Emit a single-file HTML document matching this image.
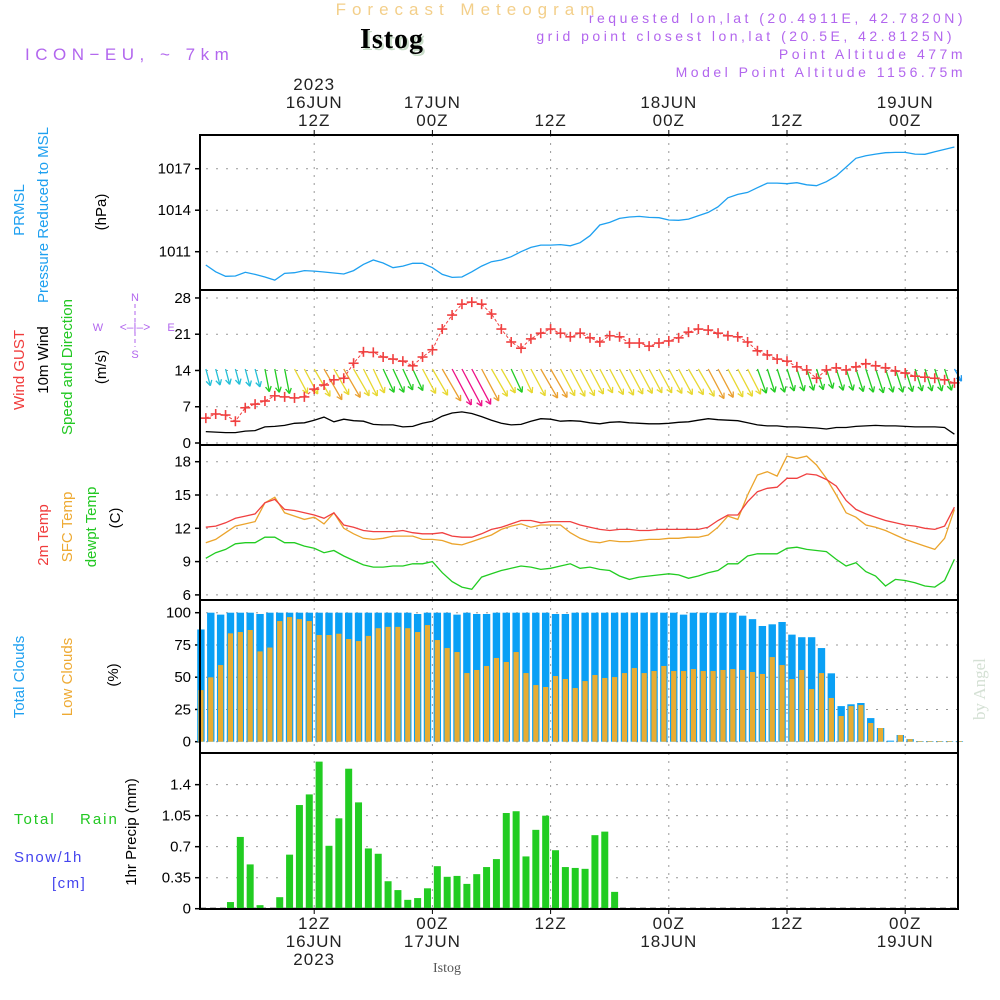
<!DOCTYPE html>
<html><head><meta charset="utf-8"><style>
html,body{margin:0;padding:0;background:#fff;}
svg{display:block;font-family:"Liberation Sans",sans-serif;}
</style></head><body>
<svg id="chart" width="1000" height="1000" viewBox="0 0 1000 1000" xmlns="http://www.w3.org/2000/svg">
<text x="468" y="15" font-size="17" fill="#f3cf8a" text-anchor="middle" letter-spacing="6">Forecast Meteogram</text>
<text x="394" y="50" font-size="28" font-weight="bold" font-family="Liberation Serif,serif" fill="#c8dcc8" text-anchor="middle" letter-spacing="1">Istog</text>
<text x="392" y="48" font-size="28" font-weight="bold" font-family="Liberation Serif,serif" fill="#000" text-anchor="middle" letter-spacing="1">Istog</text>
<text x="25" y="60" font-size="17" fill="#b266ee" letter-spacing="5.5">ICON−EU, ~ 7km</text>
<g font-size="14" fill="#b266ee" text-anchor="end" letter-spacing="3.5">
<text x="966" y="23">requested lon,lat (20.4911E, 42.7820N)</text>
<text x="955" y="41">grid point closest lon,lat (20.5E, 42.8125N)</text>
<text x="966" y="59">Point Altitude 477m</text>
<text x="966" y="77">Model Point Altitude 1156.75m</text>
</g>
<g font-size="15" fill="#000">
<text transform="translate(24,210) rotate(-90)" text-anchor="middle" fill="#1ea0f0">PRMSL</text>
<text transform="translate(48,215) rotate(-90)" text-anchor="middle" fill="#1ea0f0">Pressure Reduced to MSL</text>
<text transform="translate(106,212) rotate(-90)" text-anchor="middle">(hPa)</text>
<text transform="translate(24,370) rotate(-90)" text-anchor="middle" fill="#f03c3c">Wind GUST</text>
<text transform="translate(48,360) rotate(-90)" text-anchor="middle">10m Wind</text>
<text transform="translate(72,367) rotate(-90)" text-anchor="middle" fill="#22c822">Speed and Direction</text>
<text transform="translate(106,367) rotate(-90)" text-anchor="middle">(m/s)</text>
<text transform="translate(48,535) rotate(-90)" text-anchor="middle" fill="#f03c3c">2m Temp</text>
<text transform="translate(72,527) rotate(-90)" text-anchor="middle" fill="#eeaa33">SFC Temp</text>
<text transform="translate(96,527) rotate(-90)" text-anchor="middle" fill="#22c822">dewpt Temp</text>
<text transform="translate(120,518) rotate(-90)" text-anchor="middle">(C)</text>
<text transform="translate(24,677) rotate(-90)" text-anchor="middle" fill="#1ea0f0">Total Clouds</text>
<text transform="translate(72,677) rotate(-90)" text-anchor="middle" fill="#eeaa33">Low Clouds</text>
<text transform="translate(118,675) rotate(-90)" text-anchor="middle">(%)</text>
<text transform="translate(136,832) rotate(-90)" text-anchor="middle">1hr Precip (mm)</text>
<text x="14" y="824" fill="#22c822" letter-spacing="2">Total</text>
<text x="80" y="824" fill="#22c822" letter-spacing="2">Rain</text>
<text x="14" y="862" fill="#4444ee" letter-spacing="1.5">Snow/1h</text>
<text x="52" y="888" fill="#4444ee" letter-spacing="1.5">[cm]</text>
</g>
<g fill="#b266ee" font-size="11" stroke="none">
<text x="135" y="301" text-anchor="middle">N</text>
<text x="135" y="358" text-anchor="middle">S</text>
<text x="98" y="331" text-anchor="middle">W</text>
<text x="171" y="331" text-anchor="middle">E</text>
<text x="135" y="331" text-anchor="middle" font-size="12">&lt;–|–&gt;</text>
<line x1="135" y1="304" x2="135" y2="347" stroke="#b266ee" stroke-dasharray="4,3"/>
</g>
<text transform="translate(985,720) rotate(-90)" font-size="17" font-family="Liberation Serif,serif" fill="#d4e0d4">by Angel</text>
<text x="447" y="972" font-size="14" font-family="Liberation Serif,serif" fill="#555" text-anchor="middle">Istog</text>
<g id="plot"></g>
</svg>
<script>
const pressure=[1010.04,1009.55,1009.22,1009.24,1009.51,1009.36,1009.17,1008.95,1009.43,1009.48,1009.63,1009.6,1009.53,1009.46,1009.39,1009.63,1010.08,1010.4,1010.18,1009.84,1009.96,1010.16,1010.16,1009.84,1009.36,1009.14,1009.17,1009.55,1009.96,1010.28,1010.4,1010.64,1011.0,1011.31,1011.48,1011.48,1011.51,1011.43,1011.65,1012.16,1012.93,1013.12,1013.41,1013.51,1013.55,1013.48,1013.46,1013.29,1013.27,1013.36,1013.6,1013.84,1014.25,1014.9,1015.14,1015.29,1015.63,1015.96,1015.96,1015.92,1015.99,1015.84,1015.77,1016.06,1016.49,1017.12,1017.75,1017.94,1018.06,1018.16,1018.18,1018.18,1018.06,1018.04,1018.23,1018.4,1018.57];
const gust=[4.8,5.6,5.4,4.2,6.8,7.5,8.1,9.1,8.9,8.7,8.9,10.4,11.2,12.2,12.5,15.4,17.6,17.5,16.6,16.2,15.8,14.9,16.6,18,22,24.7,26.8,27.2,26.8,24.9,22,19.5,18.3,20.1,21.2,22,21.2,20.5,21.2,20.3,19.5,20.7,20.5,19.3,19.3,18.7,19.3,19.7,20.3,21.4,22,21.8,21.2,20.7,20.5,19.5,17.8,17,16.2,15.8,14.7,14.1,12.5,14.1,14.5,14.1,14.7,15.3,14.9,14.5,13.9,13.5,12.9,12.7,12.5,12.2,11.6];
const wind10m=[2.2,2.1,2.0,2.0,2.3,2.4,3.1,3.2,3.4,3.8,3.9,4.4,5.0,4.1,4.6,4.3,4.2,3.6,3.5,3.5,3.1,3.2,3.8,4.2,5.2,5.8,6.0,5.7,5.1,4.4,3.8,3.5,3.6,4.2,4.7,4.6,4.2,4.3,4.2,3.9,3.7,4.0,4.1,3.9,3.8,3.7,3.7,3.8,4.0,4.1,4.4,4.7,4.5,4.4,4.3,3.9,3.5,3.3,3.3,3.1,3.1,3.0,2.9,2.7,3.0,3.0,3.2,3.3,3.4,3.3,3.3,3.2,3.1,3.1,3.1,3.0,1.7];
const windDir=[345,345,345,345,345,345,349,349,349,332,332,330,330,330,330,330,333,335,335,335,335,335,332,330,330,332,332,332,332,330,330,335,335,332,330,330,332,332,332,332,332,332,332,332,332,332,332,332,332,330,330,332,332,332,332,333,340,342,342,342,342,342,342,342,342,342,342,342,342,342,342,342,342,342,342,342,330];
const temp2m=[12.1,12.2,12.5,12.9,13.1,13.3,14.3,14.6,13.7,13.6,13.4,13.2,12.9,13.4,12.3,12.1,11.8,11.7,11.7,11.7,11.8,11.6,11.5,11.5,11.6,11.3,11.2,11.2,11.5,11.9,12.1,12.4,12.7,12.7,12.5,12.6,12.6,12.6,12.3,12.1,11.9,11.8,11.9,11.9,11.8,11.8,11.9,11.9,11.9,11.9,11.9,12.1,12.7,13.2,13.2,14.4,15.3,15.6,15.7,16.5,16.5,16.9,16.8,16.4,15.8,14.5,13.7,13.3,13.0,12.7,12.5,12.3,12.2,12.0,11.9,12.2,13.9];
const sfcTemp=[10.7,11.0,11.6,12.2,12.4,12.6,14.3,14.8,13.4,13.1,12.8,13.0,12.4,13.4,12.0,11.5,11.1,11.0,11.1,11.3,11.3,11.3,11.0,11.0,10.9,10.6,10.5,10.8,11.1,11.4,11.9,12.2,12.4,12.1,12.3,12.3,12.3,11.6,11.1,10.8,10.7,10.9,10.8,10.8,10.9,11.0,11.0,11.1,11.1,11.2,11.2,11.4,12.1,13.1,12.8,15.0,16.8,17.1,16.7,18.5,18.3,18.5,17.7,16.5,15.0,13.4,13.0,12.3,12.1,11.8,11.4,11.0,10.7,10.4,10.1,11.1,13.7];
const dewpt=[9.3,9.8,10.1,10.6,10.7,10.7,11.2,11.2,10.7,10.7,10.4,10.2,9.8,10.0,9.5,9.1,8.7,8.5,8.5,8.6,8.6,8.8,8.8,9.0,8.0,7.2,6.7,6.5,7.6,7.9,8.2,8.4,8.6,8.5,8.3,8.4,8.6,8.8,8.4,8.5,8.3,8.2,7.7,7.4,7.6,7.7,7.8,7.9,7.8,7.5,7.7,8.0,8.2,8.8,8.8,9.5,9.7,9.7,9.7,10.2,10.3,10.1,10.0,9.9,9.2,8.6,8.9,8.1,7.7,6.8,7.4,7.3,7.1,6.8,6.7,7.3,9.2];
const totalClouds=[87,100,98.5,100,100,100,99,100,100,100,100,100,100,100,100,100,100,100,100,100,100,100,99,100,100,100,98.5,100,99,99,100,100,100,100,100,100,99,99,100,100,100,100,100,100,100,100,100,100,100,98.5,100,100,100,100,100,97.7,95,89.7,91,92.8,83,81,81,72.6,53,27.6,29,30,18.3,10.6,0.8,5.2,2,0.5,0.5,0.5,0.5,0.5];
const lowClouds=[40,49.9,59.4,84,85,86.6,70,73,93.5,96.6,95,93.5,82.7,82.7,83.7,79.6,78,82,88,89,89,88,85,90.4,78.8,72.6,69.5,53.2,55.6,58.7,64.9,61.8,69.5,53.2,43.9,42.4,50.9,48.6,41.6,47,51.7,49.4,50.1,53.2,57.1,53.2,54.8,58.7,54.8,54.8,56.3,54.8,54.8,55.6,56.3,55.6,54,52.5,65.6,59.4,48.6,55.6,40.8,53.2,33.9,19.9,27.6,28.4,14.5,10.6,0,5.2,2,0.5,0.5,0.5,0.5,0.5];
const precip=[0,0,0,0.075,0.81,0.50,0.04,0,0.13,0.61,1.17,1.29,1.66,0.71,1.02,1.58,1.20,0.68,0.62,0.31,0.21,0.10,0.12,0.23,0.48,0.36,0.37,0.28,0.39,0.47,0.56,1.08,1.10,0.59,0.89,1.05,0.66,0.47,0.46,0.45,0.83,0.87,0.19];
const pTicks=[1011,1014,1017];
const wTicks=[0,7,14,21,28];
const tTicks=[6,9,12,15,18];
const cTicks=[0,25,50,75,100];
const rTicks=[0,0.35,0.7,1.05,1.4];
const rTickLabels=["0","0.35","0.7","1.05","1.4"];
const timeTickHours=[12,24,36,48,60,72];
const topDayLabels=["2023\n16JUN\n12Z","17JUN\n00Z","12Z","18JUN\n00Z","12Z","19JUN\n00Z"];
const botDayLabels=["12Z\n16JUN\n2023","00Z\n17JUN","12Z","00Z\n18JUN","12Z","00Z\n19JUN"];

const NS="http://www.w3.org/2000/svg";
const plot=document.getElementById('plot');
const L=200,R=958;
function xh(h){return 196+9.85*h;}
const yP=v=>251.7-(v-1011)*13.83;
const yW=v=>443-v*5.18;
const yT=v=>528.3-(v-12)*11.1;
const yC=v=>741.7-v*1.29;
const yR=v=>908.7-v*88.6;
function el(tag,attrs,parent){const e=document.createElementNS(NS,tag);for(const k in attrs)e.setAttribute(k,attrs[k]);(parent||plot).appendChild(e);return e;}
const panels=[{t:135,b:290,y:yP,ticks:pTicks,lab:pTicks.map(String),n:'pressure'},{t:290,b:445,y:yW,ticks:wTicks,lab:wTicks.map(String),n:'wind'},{t:445,b:600,y:yT,ticks:tTicks,lab:tTicks.map(String),n:'temperature'},{t:600,b:753,y:yC,ticks:cTicks,lab:cTicks.map(String),n:'clouds'},{t:753,b:909,y:yR,ticks:rTicks,lab:rTickLabels,n:'precip'}];
panels.forEach(p=>{
  const g=el('g',{});
  
  
  timeTickHours.forEach(h=>{const l=el('line',{x1:xh(h),x2:xh(h),y1:p.t,y2:p.b,stroke:'#999','stroke-dasharray':'2,6'},g);});
  p.ticks.forEach((v,i)=>{const y=p.y(v);
    const gl=el('line',{x1:L+6,x2:R,y1:y,y2:y,stroke:'#999','stroke-dasharray':'2,8'},g);
    el('line',{x1:L-5,x2:L,y1:y,y2:y,stroke:'#000','stroke-width':1.5},g);
    const t=el('text',{x:L-9,y:y+5,'font-size':15,'text-anchor':'end',fill:'#000'},g);t.textContent=p.lab[i];
    });
});
totalClouds.forEach((v,h)=>{const x=xh(h+0.5);const r=el('rect',{x:x-3.7,y:yC(v),width:7.4,height:yC(0)-yC(v),fill:'#0aa0f5'});});
lowClouds.forEach((v,h)=>{const x=xh(h+0.5);const r=el('rect',{x:x-2.6,y:yC(v),width:5.2,height:yC(0)-yC(v),fill:'#e8ac32'});});
el('line',{x1:L,x2:R,y1:yR(0),y2:yR(0),stroke:'#000','stroke-width':2,'stroke-dasharray':'6,4'});
precip.forEach((v,h)=>{if(v<=0)return;const x=xh(h+0.5);const r=el('rect',{x:x-3.5,y:yR(v),width:7,height:yR(0)-yR(v),fill:'#22cc22'});});
function line(arr,yf,color,name,w){const pts=arr.map((v,i)=>xh(i+1).toFixed(1)+','+yf(v).toFixed(1)).join(' ');const l=el('polyline',{points:pts,fill:'none',stroke:color,'stroke-width':w||1.3});return l;}
line(pressure,yP,'#1ea0f0','pressure-line');
line(sfcTemp,yT,'#eba42c','sfc-temp-line');
line(temp2m,yT,'#f04040','temp-2m-line');
line(dewpt,yT,'#22cc22','dewpoint-line');
line(wind10m,yW,'#000','wind-10m-line');
function wcol(s){return s<2?'#2299ee':s<2.6?'#22c0d8':s<3.6?'#22cc22':s<4.5?'#e8d830':s<5.5?'#eaa030':'#ee1188';}
wind10m.forEach((s,i)=>{const x=xh(i+1),y=369;const len=6.5*s+3;const a=(windDir[i]+180)*Math.PI/180;const dx=Math.sin(a)*len,dy=-Math.cos(a)*len;const x2=x+dx,y2=y+dy;const c=wcol(s);
  const g=el('g',{stroke:c,'stroke-width':1.3,fill:'none'});
  
  
  el('line',{x1:x,y1:y,x2:x2,y2:y2},g);
  const ang=Math.atan2(dy,dx);[2.6,-2.6].forEach(o=>{el('line',{x1:x2,y1:y2,x2:x2-6*Math.cos(ang+o/5.2),y2:y2-6*Math.sin(ang+o/5.2)},g);});
});
line(gust,yW,'#f04040','gust-line',1).setAttribute('stroke-dasharray','3,2');
gust.forEach((v,i)=>{const x=xh(i+1),y=yW(v);const g=el('g',{stroke:'#f04040','stroke-width':1.6});el('line',{x1:x-5,x2:x+5,y1:y,y2:y},g);el('line',{x1:x,x2:x,y1:y-5,y2:y+5},g);});
panels.forEach(p=>{const r=el('rect',{x:L,y:p.t,width:R-L,height:p.b-p.t,fill:'none',stroke:'#000','stroke-width':2});});
timeTickHours.forEach((h,i)=>{const x=xh(h);
  el('line',{x1:x,x2:x,y1:130,y2:135,stroke:'#000'});el('line',{x1:x,x2:x,y1:909,y2:914,stroke:'#000'});
  const tl=topDayLabels[i].split('\n');tl.forEach((s,j)=>{const t=el('text',{x:x,y:129-(tl.length-1-j)*18-3,'font-size':17,'text-anchor':'middle',fill:'#222','letter-spacing':1});t.textContent=s;});
  botDayLabels[i].split('\n').forEach((s,j)=>{const t=el('text',{x:x,y:929+j*18,'font-size':17,'text-anchor':'middle',fill:'#222','letter-spacing':1});t.textContent=s;});
});
</script>
</body></html>
